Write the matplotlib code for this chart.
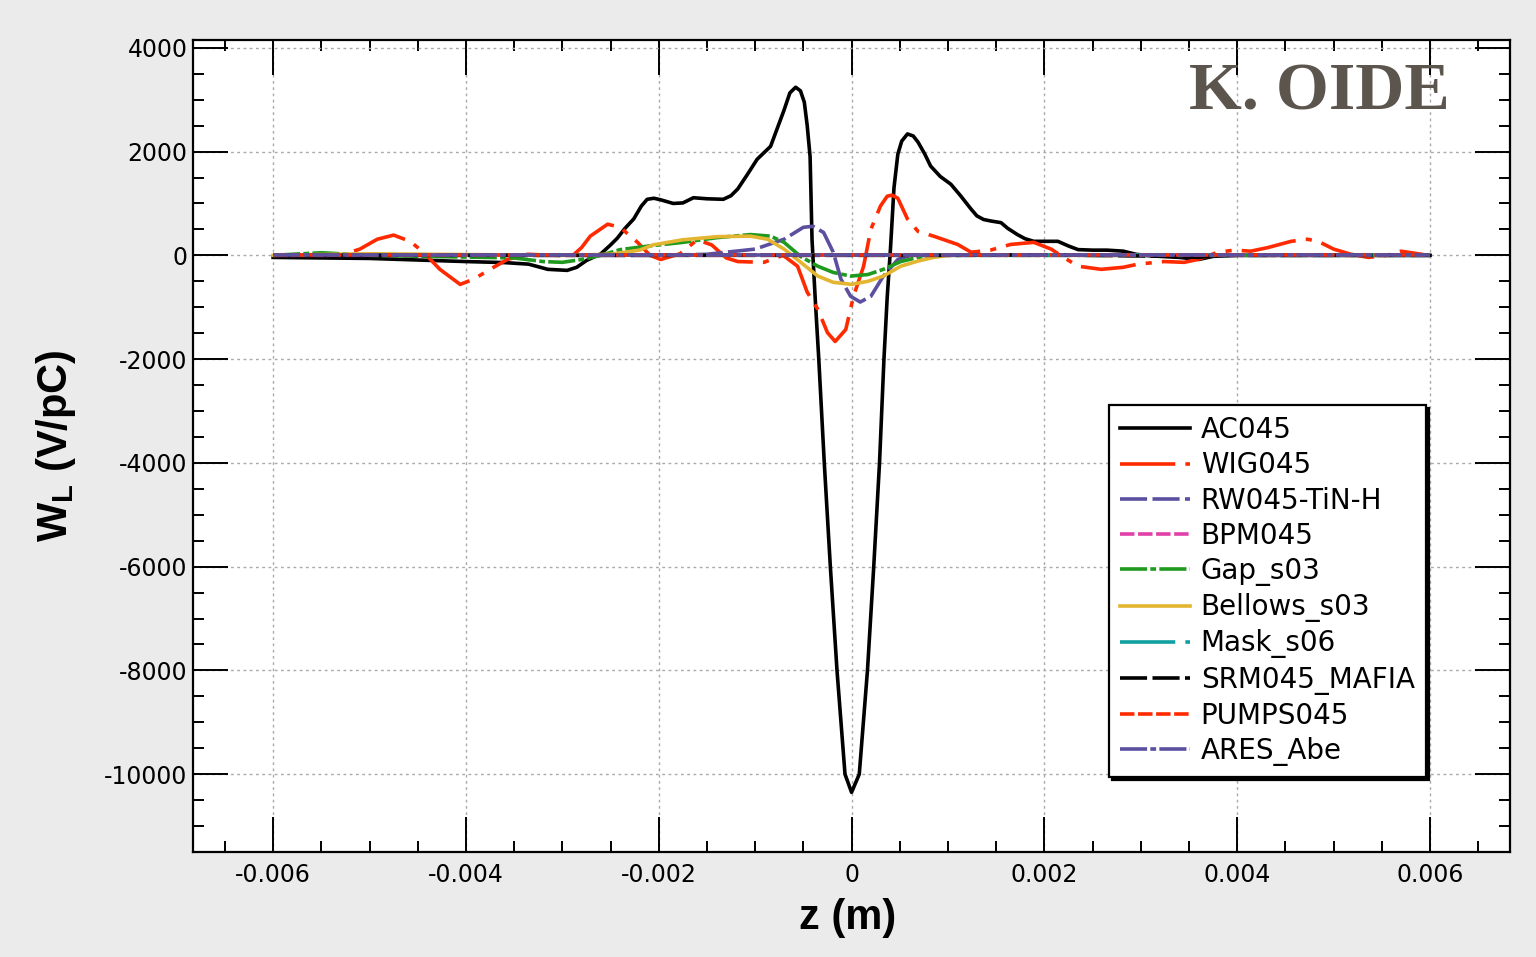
import numpy as np
import matplotlib
matplotlib.use("Agg")
from matplotlib import pyplot as plt
from matplotlib.ticker import MultipleLocator, FuncFormatter

# wake data, z in mm, W in V/pC
ac045_z = [-6.0, -5.0, -4.5, -4.0, -3.6, -3.35, -3.15, -2.95, -2.85, -2.75, -2.6, -2.5, -2.43,
           -2.35, -2.26, -2.18, -2.12, -2.05, -1.98, -1.85, -1.75, -1.64, -1.5, -1.33, -1.25,
           -1.18, -1.08, -0.98, -0.84, -0.76, -0.70, -0.64, -0.58, -0.53, -0.49, -0.46, -0.43,
           -0.41, -0.375, -0.34, -0.283, -0.22, -0.151, -0.068, 0.0, 0.08, 0.165, 0.23, 0.29,
           0.336, 0.37, 0.404, 0.44, 0.48, 0.52, 0.58, 0.64, 0.69, 0.76, 0.82, 0.92, 1.03, 1.13,
           1.24, 1.30, 1.37, 1.45, 1.55, 1.62, 1.72, 1.80, 1.89, 2.0, 2.14, 2.25, 2.35, 2.5, 2.65,
           2.82, 2.95, 3.1, 3.4, 3.6, 3.75, 4.0, 5.0, 6.0]
ac045_w = [-40, -60, -90, -120, -140, -170, -270, -290, -230, -100, 30, 200, 330,
           520, 700, 950, 1080, 1100, 1070, 1000, 1010, 1110, 1090, 1080, 1150,
           1280, 1560, 1850, 2100, 2500, 2800, 3130, 3240, 3170, 2950, 2500, 1900,
           300, -900, -2000, -4000, -6000, -8000, -10000, -10350, -10000, -8000, -6000, -4000,
           -2000, -800, 140, 1300, 1950, 2200, 2340, 2300, 2180, 1950, 1720, 1520, 1370, 1150,
           890, 760, 690, 660, 630, 520, 400, 320, 270, 270, 270, 180, 110, 100, 100,
           80, 20, -10, -40, -80, -20, 0, 0, 0]

wig045_z = [-6.0, -5.3, -5.1, -4.92, -4.75, -4.58, -4.44, -4.27, -4.06, -3.92, -3.75, -3.57, -3.36,
            -3.1, -2.89, -2.8, -2.71, -2.53, -2.40, -2.22, -2.09, -1.98, -1.78, -1.6, -1.45, -1.3,
            -1.18, -0.91, -0.71, -0.56, -0.46, -0.35, -0.25, -0.17, -0.06, 0.02, 0.125, 0.20, 0.30,
            0.37, 0.42, 0.48, 0.58, 0.69, 0.85, 1.10, 1.24, 1.44, 1.65, 1.89, 2.07, 2.20, 2.35,
            2.59, 2.82, 2.97, 3.24, 3.45, 3.59, 3.80, 3.97, 4.14, 4.32, 4.56, 4.73, 4.84, 5.00,
            5.18, 5.36, 5.55, 5.70, 5.98]
wig045_w = [0, 0, 120, 310, 390, 270, 60, -270, -560, -460, -270, -80, 20,
            0, 0, 150, 370, 600, 540, 250, 0, -80, 30, 300, 200, -50,
            -120, -135, 0, -210, -710, -1040, -1490, -1660, -1430, -790, -210, 500, 950,
            1140, 1160, 1100, 700, 460, 370, 210, 60, 100, 210, 250, 120, -40, -210,
            -270, -230, -170, -120, -135, -80, 60, 100, 80, 150, 270, 310, 270, 120,
            20, -40, 0, 80, 0]

rw045_z = [-6.0, -2.0, -1.5, -1.2, -1.0, -0.70, -0.50, -0.40, -0.29, -0.19, -0.11, -0.01,
           0.09, 0.20, 0.33, 0.48, 0.61, 6.0]
rw045_w = [0, 0, 20, 80, 120, 310, 540, 560, 440, 60, -460, -790,
           -900, -790, -400, -80, 0, 0]

bpm045_z = [-6.0, 6.0]
bpm045_w = [0, 0]

gap_z = [-6.0, -5.5, -5.0, -3.5, -3.2, -3.0, -2.8, -2.6, -2.4, -2.1, -1.75, -1.4, -1.05, -0.84,
         -0.70, -0.53, -0.35, -0.19, -0.01, 0.17, 0.33, 0.51, 0.69, 0.85, 6.0]
gap_w = [0, 50, 0, -50, -120, -135, -80, 0, 110, 180, 250, 340, 400, 370,
         250, -20, -210, -330, -400, -370, -270, -120, -40, 0, 0]

bellows_z = [-6.0, -5.0, -3.0, -2.5, -2.2, -2.06, -1.75, -1.39, -1.05, -0.87, -0.70, -0.53,
             -0.35, -0.19, 0.0, 0.17, 0.33, 0.51, 0.69, 0.85, 1.0]
bellows_w = [0, 30, 0, 20, 100, 200, 300, 360, 370, 310, 120, -130,
             -400, -520, -560, -500, -400, -210, -110, -40, 0]

mask_z = [-6.0, 6.0]
mask_w = [0, 0]

srm_z = [-6.0, 1.0, 2.0, 3.4, 3.6, 3.8, 6.0]
srm_w = [0, 0, 10, -20, -40, 0, 0]

pumps_z = [-6.0, 6.0]
pumps_w = [0, 0]

ares_z = [-6.0, 6.0]
ares_w = [0, 0]

RED = '#ff2a00'
PURPLE = '#5b4fa0'
LONG_DOT = (0, (15.3, 2.8, 1.7, 2.8))
LONG_SHORT = (0, (7.5, 1.5))
DASHED = (0, (4.0, 1.0))
DASH_DOT = (0, (7.5, 0.9, 1.6, 0.9))

series = [
    ('AC045', ac045_z, ac045_w, 'black', '-'),
    ('WIG045', wig045_z, wig045_w, RED, LONG_DOT),
    ('RW045-TiN-H', rw045_z, rw045_w, PURPLE, LONG_SHORT),
    ('BPM045', bpm045_z, bpm045_w, '#e040a8', DASHED),
    ('Gap_s03', gap_z, gap_w, '#1f9a1f', DASH_DOT),
    ('Bellows_s03', bellows_z, bellows_w, '#e3b530', '-'),
    ('Mask_s06', mask_z, mask_w, '#10a0a0', LONG_DOT),
    ('SRM045_MAFIA', srm_z, srm_w, 'black', LONG_SHORT),
    ('PUMPS045', pumps_z, pumps_w, RED, DASHED),
    ('ARES_Abe', ares_z, ares_w, PURPLE, DASH_DOT),
]

plt.rcParams['font.family'] = ['DejaVu Sans']
plt.rcParams['axes.unicode_minus'] = False
plt.rcParams['mathtext.fontset'] = 'custom'
plt.rcParams['mathtext.rm'] = 'Liberation Sans'
plt.rcParams['mathtext.bf'] = 'Liberation Sans:bold'

fig = plt.figure(figsize=(15.36, 9.57), dpi=100, facecolor='#ebebeb')
ax = fig.add_axes([0.1257, 0.1097, 0.8574, 0.8485])

for name, z, w, color, ls in series:
    ax.plot(np.array(z) * 1e-3, w, color=color, linestyle=ls, linewidth=2.6, label=name)

ax.set_xlim(-0.00683, 0.00683)
ax.set_ylim(-11500, 4150)

ax.xaxis.set_major_locator(MultipleLocator(0.002))
ax.xaxis.set_minor_locator(MultipleLocator(0.0005))
ax.yaxis.set_major_locator(MultipleLocator(2000))
ax.yaxis.set_minor_locator(MultipleLocator(500))
ax.xaxis.set_major_formatter(FuncFormatter(lambda v, p: '0' if abs(v) < 1e-9 else '%g' % v))

ax.tick_params(which='both', direction='in', top=True, right=True, width=1.4, colors='black')
ax.tick_params(which='major', length=25, labelsize=17)
ax.tick_params(axis='x', which='major', pad=8)
ax.tick_params(axis='y', which='major', pad=4)
ax.tick_params(which='minor', length=8)

for sp in ax.spines.values():
    sp.set_linewidth(1.6)

ax.grid(True, which='major', color='#aaaaaa', linestyle=(0, (2, 2.5)), linewidth=1.0)

ax.set_xlabel('z (m)', fontsize=30, fontweight='bold', family='Liberation Sans')
ax.set_ylabel(r'$\mathbf{W_L}$ (V/pC)', fontsize=30, fontweight='bold', family='Liberation Sans')
ax.xaxis.set_label_coords(0.497, -0.057)
ax.yaxis.set_label_coords(-0.087, 0.5)

ax.text(0.9545, 0.915, 'K. OIDE', transform=ax.transAxes, ha='right', va='baseline',
        fontsize=49, fontweight='bold', family='Liberation Serif', color='#5b554d')

leg = ax.legend(loc='upper left', bbox_to_anchor=(0.6955, 0.5505), borderaxespad=0,
                fontsize=20, frameon=True, fancybox=False, edgecolor='black',
                handlelength=2.5, handletextpad=0.4, labelspacing=0.26, borderpad=0.4,
                shadow={'color': 'black', 'alpha': 1.0})
leg.get_frame().set_linewidth(1.6)

fig.savefig('out.png', dpi=100, facecolor=fig.get_facecolor())
